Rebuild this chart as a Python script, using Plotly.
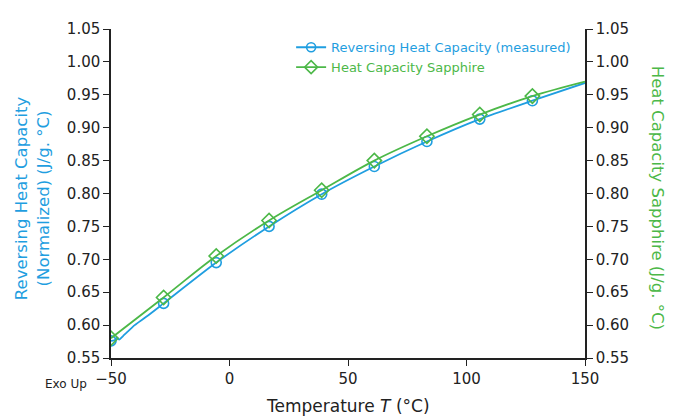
import plotly.graph_objects as go

# Temperatures (°C) at marker positions
temp_markers = [-50.0, -27.8, -5.6, 16.7, 38.9, 61.1, 83.3, 105.6, 127.8]
measured_markers = [0.576, 0.633, 0.695, 0.750, 0.799, 0.841, 0.879, 0.913, 0.941]
sapphire_markers = [0.580, 0.642, 0.705, 0.759, 0.805, 0.850, 0.887, 0.920, 0.948]

# Line traces
temp_measured_line = [-50.0, -48.5, -47.5, -46.5, -45.0, -43.0, -40.0, -35.0, -27.8,
                      -5.6, 16.7, 38.9, 61.1, 83.3, 105.6, 127.8, 150.0]
measured_line = [0.576, 0.577, 0.581, 0.578, 0.583, 0.590, 0.600, 0.613, 0.633,
                 0.695, 0.750, 0.799, 0.841, 0.879, 0.913, 0.941, 0.968]
temp_sapphire_line = temp_markers + [150.0]
sapphire_line = sapphire_markers + [0.970]

x_ticks = [-50, 0, 50, 100, 150]
y_ticks = [0.55, 0.60, 0.65, 0.70, 0.75, 0.80, 0.85, 0.90, 0.95, 1.00, 1.05]

BLUE = "#1f9ee0"
GREEN = "#4cb848"
FONT = "DejaVu Sans"

fig = go.Figure()

fig.add_trace(go.Scatter(x=temp_sapphire_line, y=sapphire_line, mode="lines",
                         line=dict(color=GREEN, width=1.8, shape="spline"),
                         yaxis="y2", showlegend=False, hoverinfo="skip"))
fig.add_trace(go.Scatter(x=temp_markers, y=sapphire_markers, mode="markers",
                         marker=dict(symbol="diamond-open", size=11, color=GREEN,
                                     line=dict(width=1.6)),
                         yaxis="y2", showlegend=False))
fig.add_trace(go.Scatter(x=temp_measured_line, y=measured_line, mode="lines",
                         line=dict(color=BLUE, width=1.8, shape="spline", smoothing=0.6),
                         showlegend=False, hoverinfo="skip"))
fig.add_trace(go.Scatter(x=temp_markers, y=measured_markers, mode="markers",
                         marker=dict(symbol="circle-open", size=10, color=BLUE,
                                     line=dict(width=1.6)),
                         showlegend=False))

# legend-only entries
fig.add_trace(go.Scatter(x=[None], y=[None], mode="lines+markers",
                         name=f"<span style='color:{BLUE}'>Reversing Heat Capacity (measured)</span>",
                         line=dict(color=BLUE, width=1.8),
                         marker=dict(symbol="circle-open", size=9, color=BLUE, line=dict(width=1.6))))
fig.add_trace(go.Scatter(x=[None], y=[None], mode="lines+markers",
                         name=f"<span style='color:{GREEN}'>Heat Capacity Sapphire</span>",
                         line=dict(color=GREEN, width=1.8),
                         marker=dict(symbol="diamond-open", size=10, color=GREEN, line=dict(width=1.6))))

axis_common = dict(showgrid=False, zeroline=False, showline=True, linecolor="#222",
                   linewidth=1.5, ticks="outside", ticklen=6, tickwidth=1.2, tickcolor="#222",
                   tickfont=dict(family=FONT, size=15, color="#222"))

fig.update_layout(
    width=665, height=409,
    margin=dict(l=103, r=88, t=13, b=59),
    paper_bgcolor="white", plot_bgcolor="white",
    font=dict(family=FONT, color="#222"),
    xaxis=dict(range=[-50, 150], tickvals=x_ticks, **axis_common),
    yaxis=dict(range=[0.55, 1.05], tickvals=y_ticks, tickformat=".2f", **axis_common),
    yaxis2=dict(range=[0.55, 1.05], tickvals=y_ticks, tickformat=".2f", overlaying="y",
                side="right", anchor="x", **axis_common),
    legend=dict(x=0.38, y=0.99, xanchor="left", yanchor="top", bgcolor="rgba(0,0,0,0)",
                font=dict(family=FONT, size=13), tracegroupgap=0, itemwidth=30),
    annotations=[
        dict(text="Reversing Heat Capacity<br>(Normalized) (J/g. °C)", textangle=-90,
             xref="paper", yref="paper", x=-0.165, y=0.485, xanchor="center", yanchor="middle",
             showarrow=False, font=dict(family=FONT, size=16.5, color=BLUE)),
        dict(text="Heat Capacity Sapphire (J/g. °C)", textangle=90,
             xref="paper", yref="paper", x=1.152, y=0.487, xanchor="center", yanchor="middle",
             showarrow=False, font=dict(family=FONT, size=16.5, color=GREEN)),
        dict(text="Temperature <i>T</i> (°C)", xref="paper", yref="paper", x=0.5, y=-0.145,
             xanchor="center", yanchor="middle", showarrow=False,
             font=dict(family=FONT, size=17, color="#222")),
        dict(text="Exo Up", xref="paper", yref="paper", x=-0.095, y=-0.08,
             xanchor="center", yanchor="middle", showarrow=False,
             font=dict(family=FONT, size=12, color="#222")),
    ],
)

fig.write_html("out.html")
